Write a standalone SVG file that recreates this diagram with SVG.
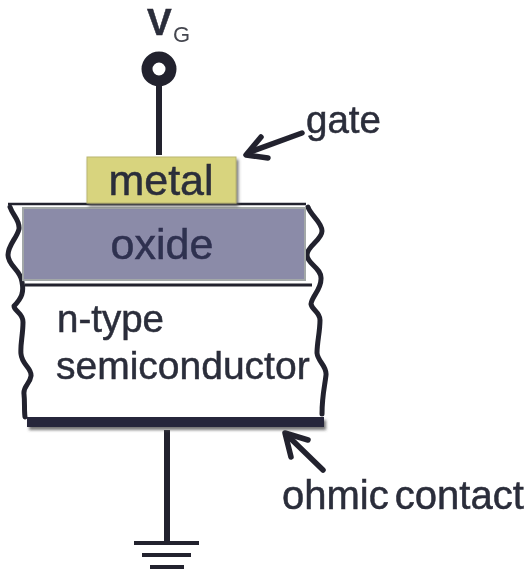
<svg xmlns="http://www.w3.org/2000/svg" width="528" height="573" viewBox="0 0 528 573">
<defs>
<filter id="blur" filterUnits="userSpaceOnUse" x="0" y="0" width="528" height="573"><feGaussianBlur stdDeviation="0.6"/></filter>
<filter id="tb" filterUnits="userSpaceOnUse" x="0" y="0" width="528" height="573"><feGaussianBlur stdDeviation="0.35"/></filter>
<filter id="shadow" filterUnits="userSpaceOnUse" x="0" y="0" width="528" height="573"><feDropShadow dx="2" dy="3" stdDeviation="1.6" flood-color="#555" flood-opacity="0.8"/></filter>
</defs>
<style>
text{font-family:"Liberation Sans",Arial,sans-serif;fill:#2b2d3a;stroke:#2b2d3a;stroke-width:0.5}
.w{fill:none;stroke:#23242f;stroke-width:5;stroke-linecap:round;stroke-linejoin:round}
.l{fill:none;stroke:#23242f;stroke-width:4}
</style>
<rect width="528" height="573" fill="#fff"/>
<g id="connectors" filter="url(#blur)">
<path class="l" style="stroke-width:6" d="M159 84V155"/>
<path class="l" style="stroke-width:6" d="M167 430V543"/>
<path class="l" style="stroke-width:4" d="M134 543H199M142 555H191M150 567H184"/>
<path class="l" style="stroke-width:5.5;stroke-linecap:round" d="M302 133L250 152"/>
<path class="l" style="stroke-width:5.5;stroke-linecap:round;stroke-linejoin:round" d="M261 137L246 155L268 158"/>
<path class="l" style="stroke-width:5.5;stroke-linecap:round" d="M323 470L289 437"/>
<path class="l" style="stroke-width:5.5;stroke-linecap:round;stroke-linejoin:round" d="M291 457L285 433L308 440"/>
</g>
<g id="semiconductor">
<g filter="url(#blur)">
<path class="w" d="M10 207C13 216 20 220 19 229C17 238 8 245 8 255C8 266 21 270 22 282C24 292 22 298 14 306C14 311 23 313 23 322C23 335 20 345 21 354C22 365 32 368 31 376C30 384 23 386 24 394C25 403 24 410 25 417"/>
<path class="w" d="M308 207C311 216 322 222 322 231C322 240 307 246 307 255C307 264 322 268 321 279C321 290 312 296 311 304C312 310 320 312 320 320C320 332 317 342 317 353C318 362 327 366 326 375C325 385 322 395 322 414"/>
</g>
<g filter="url(#tb)">
<text x="57" y="332" font-size="38.5">n-type</text>
<text x="56" y="379" font-size="39">semiconductor</text>
</g>
</g>
<g id="ohmic-contact">
<rect x="27" y="417" width="297" height="10" fill="#25263a" filter="url(#shadow)"/>
</g>
<g id="oxide">
<g filter="url(#blur)">
<path class="l" style="stroke-width:2.5" d="M8 204H306"/>
<rect x="23" y="208" width="282" height="72" fill="#8b8ba8" stroke="#a3a8a8" stroke-width="2"/>
<path class="l" style="stroke-width:3" d="M25 285H312"/>
</g>
<text x="162" y="259" font-size="43" text-anchor="middle" filter="url(#tb)" style="fill:#2f3050;stroke:#2f3050">oxide</text>
</g>
<g id="metal">
<rect x="87" y="157" width="149" height="46" fill="#d8d47e" stroke="#b9b570" stroke-width="1" filter="url(#shadow)"/>
<text x="161" y="195" font-size="43" text-anchor="middle" filter="url(#tb)">metal</text>
</g>
<g id="vg" filter="url(#tb)">
<circle cx="159" cy="69" r="12" fill="#fff" stroke="#23242f" stroke-width="11"/>
<text x="147" y="35" font-size="37" font-weight="700">V</text>
<text x="173" y="42" font-size="22" style="fill:#44464f;stroke:none">G</text>
</g>
<g id="gate-label" filter="url(#tb)"><text x="306" y="133" font-size="38.5">gate</text></g>
<g id="ohmic-label" filter="url(#tb)"><text x="282" y="509" font-size="40" word-spacing="-5">ohmic contact</text></g>
</svg>
